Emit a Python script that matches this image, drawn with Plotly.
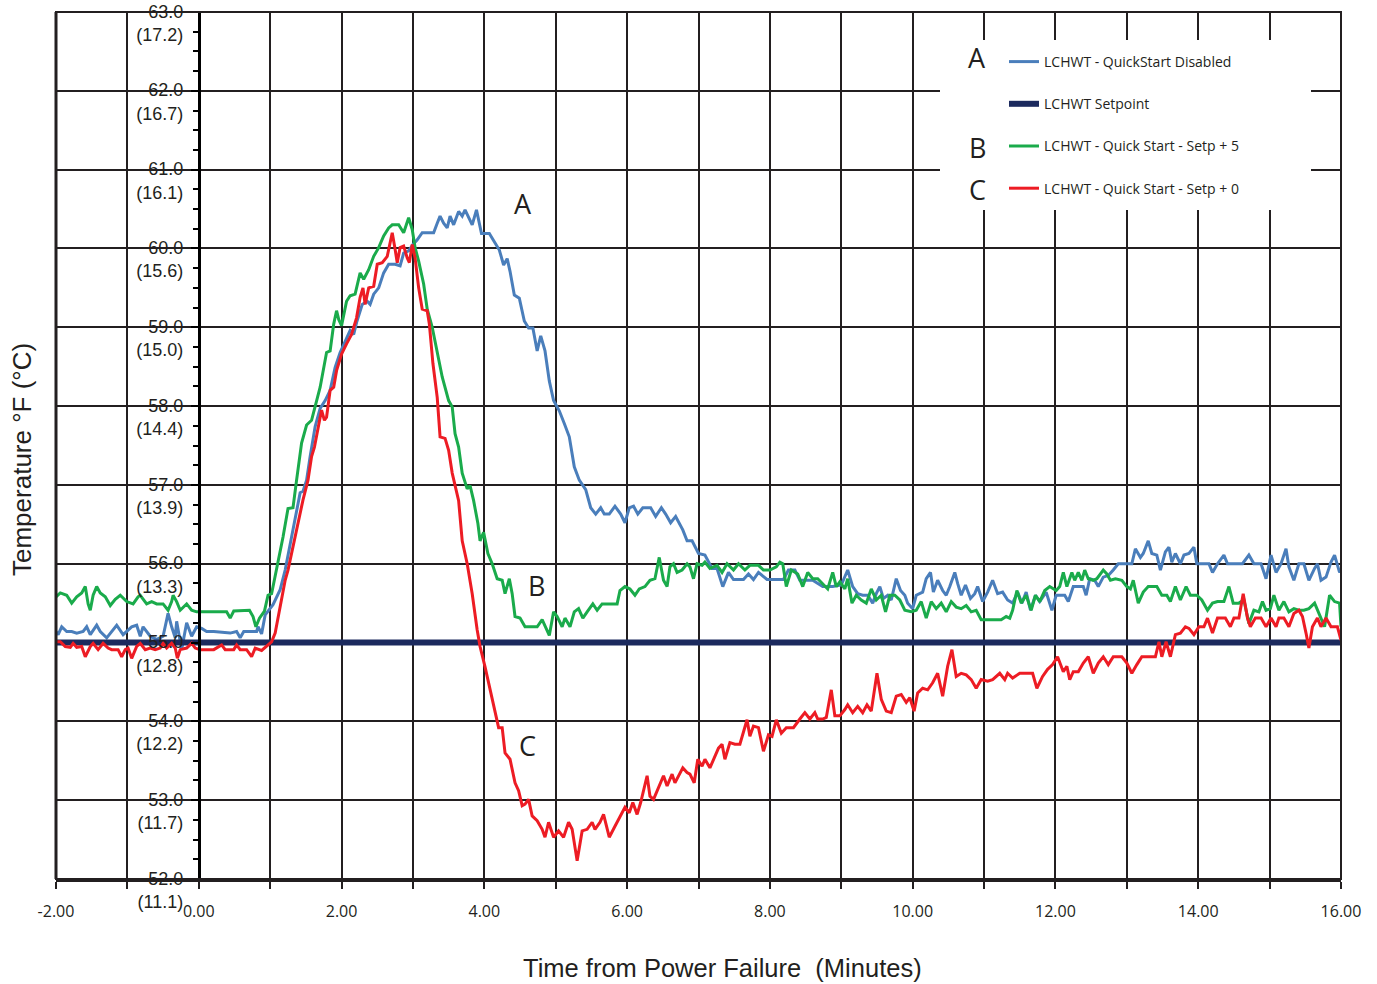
import plotly.graph_objects as go

# ---------------- data ----------------
time_a = [-2.00,-1.97,-1.92,-1.85,-1.78,-1.71,-1.62,-1.57,-1.52,-1.43,-1.38,-1.29,-1.15,-1.06,-0.94,-0.87,-0.82,-0.78,-0.68,-0.59,-0.50,-0.43,-0.38,-0.33,-0.31,-0.24,-0.17,-0.10,-0.03,0.04,0.11,0.21,0.44,0.53,0.58,0.63,0.81,0.83,0.88,0.93,1.04,1.14,1.21,1.28,1.35,1.42,1.46,1.51,
          1.56,1.63,1.70,1.77,1.84,1.91,1.98,2.05,2.12,2.17,2.21,2.29,2.36,2.40,2.45,2.52,2.59,2.66,2.75,2.82,2.87,2.94,3.00,3.06,3.13,3.24,3.29,3.34,3.38,3.43,3.48,3.52,3.57,3.64,3.69,3.73,3.78,3.83,3.89,3.93,3.96,
          4.07,4.14,4.21,4.27,4.32,4.36,4.42,4.49,4.56,4.62,4.68,4.74,4.79,4.85,4.91,4.97,5.05,5.12,5.19,5.26,5.33,5.42,5.49,5.56,5.63,5.68,5.75,5.83,5.91,5.97,6.03,6.09,6.15,6.22,6.33,6.40,6.48,6.54,6.61,6.68,6.78,6.84,6.91,
          7.00,7.09,7.19,7.26,7.34,7.42,7.49,7.63,7.70,7.77,7.84,7.96,8.19,8.26,8.35,8.42,8.60,8.74,8.88,9.00,9.09,9.16,9.23,9.30,9.37,9.44,9.49,9.54,9.59,9.65,9.70,9.77,9.83,9.89,9.93,
          10.00,10.05,10.14,10.19,10.25,10.29,10.35,10.42,10.47,10.52,10.59,10.63,10.68,10.74,10.81,10.87,10.91,10.98,11.05,11.12,11.19,11.26,11.33,11.40,11.47,11.53,11.59,11.65,11.72,11.78,11.87,11.95,12.01,
          12.06,12.13,12.18,12.25,12.32,12.39,12.43,12.48,12.55,12.60,12.67,12.74,12.81,12.88,13.00,13.07,13.12,13.19,13.23,13.30,13.35,13.42,13.47,13.54,13.59,13.63,13.68,13.75,13.80,13.87,13.94,13.98,
          14.08,14.15,14.20,14.27,14.36,14.41,14.62,14.71,14.78,14.88,14.95,15.02,15.09,15.16,15.23,15.27,15.34,15.41,15.48,15.55,15.63,15.67,15.72,15.79,15.86,15.91,15.98,16.00]
temp_a = [55.14,55.10,55.20,55.14,55.14,55.12,55.14,55.20,55.10,55.22,55.14,55.06,55.22,55.10,55.20,55.22,55.08,55.20,55.08,55.04,55.08,55.37,55.20,55.06,55.27,54.91,55.25,55.08,55.20,55.18,55.14,55.14,55.12,55.14,55.06,55.14,55.14,55.20,55.11,55.35,55.48,55.67,55.92,56.26,56.56,56.90,56.92,57.06,
          57.36,57.74,57.97,58.07,58.20,58.49,58.68,58.81,58.96,58.91,59.06,59.29,59.33,59.29,59.42,59.50,59.69,59.80,59.80,59.78,59.94,59.97,60.05,60.11,60.20,60.20,60.20,60.32,60.41,60.32,60.26,60.41,60.30,60.47,60.41,60.49,60.39,60.30,60.49,60.34,60.19,
          60.19,60.08,59.98,59.79,59.87,59.71,59.41,59.37,59.08,58.99,58.99,58.70,58.89,58.70,58.32,58.07,57.94,57.78,57.61,57.23,57.06,56.94,56.71,56.63,56.71,56.63,56.63,56.73,56.63,56.52,56.71,56.73,56.63,56.71,56.71,56.60,56.71,56.63,56.52,56.60,56.43,56.29,56.29,
          56.13,56.11,55.94,55.94,55.71,55.89,55.80,55.80,55.87,55.80,55.89,55.80,55.80,55.92,55.92,55.79,55.79,55.71,55.71,55.73,55.92,55.71,55.62,55.60,55.60,55.50,55.62,55.71,55.56,55.60,55.54,55.81,55.66,55.60,55.50,
          55.43,55.60,55.64,55.81,55.89,55.64,55.79,55.66,55.60,55.71,55.89,55.75,55.60,55.73,55.56,55.62,55.71,55.52,55.64,55.79,55.62,55.64,55.54,55.50,55.64,55.50,55.64,55.41,55.60,55.52,55.64,55.41,55.60,
          55.60,55.60,55.52,55.71,55.71,55.71,55.60,55.81,55.79,55.71,55.83,55.85,55.92,56.00,56.00,56.00,56.19,56.08,56.13,56.29,56.13,56.11,55.92,56.15,56.21,56.02,56.13,56.00,56.11,56.13,56.21,56.00,
          56.00,56.00,55.89,56.00,56.11,56.00,56.00,56.11,56.00,56.00,55.81,56.11,55.89,56.00,56.19,55.96,55.79,56.00,56.00,55.79,55.94,56.00,55.79,55.83,56.02,56.11,55.89,55.92]

time_sp = [-2.00, 16.00]
temp_sp = [55.0, 55.0]

time_b = [-2.00,-1.94,-1.85,-1.78,-1.71,-1.64,-1.59,-1.55,-1.52,-1.48,-1.43,-1.38,-1.31,-1.24,-1.17,-1.10,-1.01,-0.92,-0.85,-0.82,-0.73,-0.66,-0.59,-0.50,-0.43,-0.38,-0.36,-0.31,-0.26,-0.17,-0.10,-0.03,0.11,0.39,0.44,0.49,0.71,0.76,0.80,0.85,0.92,0.97,1.02,1.11,1.18,1.25,1.32,1.37,
          1.44,1.51,1.58,1.70,1.79,1.84,1.89,1.93,1.96,2.00,2.07,2.12,2.19,2.26,2.31,2.38,2.45,2.52,2.59,2.66,2.71,2.80,2.87,2.94,2.99,3.03,3.08,3.15,3.20,3.27,3.34,3.41,3.50,3.55,3.59,3.64,3.69,
          3.73,3.76,3.80,3.85,3.91,3.94,3.99,4.05,4.11,4.18,4.25,4.29,4.35,4.39,4.43,4.50,4.57,4.74,4.81,4.85,4.91,4.97,5.02,5.09,5.13,5.20,5.26,5.32,5.38,5.44,5.52,5.58,5.65,5.86,5.90,5.97,6.04,6.11,6.17,6.25,6.32,6.39,6.45,6.51,6.56,6.60,6.65,6.70,6.77,6.84,6.88,6.93,6.98,
          7.05,7.09,7.16,7.26,7.33,7.40,7.49,7.56,7.65,7.72,7.84,7.91,8.00,8.09,8.14,8.18,8.23,8.30,8.39,8.46,8.53,8.60,8.67,8.74,8.81,8.88,8.93,8.98,9.05,9.09,9.15,9.21,9.28,9.35,9.42,9.49,9.56,9.62,9.68,9.75,9.82,9.89,9.98,
          10.05,10.12,10.19,10.26,10.33,10.40,10.47,10.54,10.61,10.68,10.75,10.82,10.89,10.96,11.12,11.24,11.31,11.36,11.40,11.46,11.52,11.59,11.66,11.72,11.78,11.85,11.92,12.01,
          12.06,12.11,12.16,12.23,12.27,12.32,12.37,12.41,12.46,12.53,12.58,12.67,12.72,12.77,12.84,12.93,13.00,13.05,13.09,13.16,13.23,13.30,13.42,13.49,13.56,13.61,13.68,13.75,13.83,13.89,13.98,
          14.05,14.13,14.20,14.27,14.36,14.43,14.49,14.57,14.64,14.71,14.78,14.85,14.90,14.95,15.01,15.06,15.13,15.20,15.27,15.34,15.41,15.48,15.55,15.63,15.70,15.77,15.84,15.91,15.98,16.00]
temp_b = [55.58,55.63,55.60,55.50,55.58,55.63,55.71,55.49,55.41,55.60,55.71,55.63,55.58,55.47,55.55,55.60,55.52,55.49,55.58,55.60,55.49,55.52,55.49,55.49,55.41,55.52,55.60,55.52,55.41,55.49,55.41,55.39,55.39,55.39,55.31,55.40,55.41,55.33,55.20,55.31,55.40,55.60,55.62,56.01,56.34,56.70,56.71,57.06,
          57.53,57.76,57.82,58.24,58.68,58.70,59.04,59.21,59.10,59.02,59.33,59.40,59.42,59.69,59.61,59.73,59.90,60.01,60.16,60.26,60.30,60.30,60.20,60.39,60.24,60.01,59.84,59.55,59.23,59.00,58.66,58.37,58.07,57.99,57.65,57.48,57.15,
          57.02,56.95,56.99,56.80,56.51,56.29,56.40,56.13,56.00,55.81,55.79,55.62,55.81,55.62,55.33,55.31,55.20,55.20,55.29,55.20,55.09,55.39,55.33,55.20,55.31,55.20,55.39,55.43,55.31,55.39,55.49,55.41,55.49,55.49,55.66,55.71,55.68,55.60,55.68,55.71,55.79,55.81,56.08,55.79,55.71,55.96,56.00,55.89,55.92,56.00,55.96,55.81,56.00,
          55.98,56.02,55.94,55.98,55.89,56.00,55.92,56.00,55.92,55.98,55.98,55.92,55.92,55.96,56.02,56.00,55.71,55.92,55.87,55.71,55.89,55.81,55.81,55.75,55.68,55.89,55.71,55.77,55.68,55.81,55.50,55.60,55.54,55.50,55.68,55.54,55.60,55.39,55.60,55.60,55.54,55.41,55.39,
          55.41,55.52,55.31,55.52,55.43,55.50,55.39,55.52,55.45,55.43,55.47,55.39,55.41,55.29,55.29,55.29,55.33,55.31,55.41,55.66,55.50,55.60,55.41,55.60,55.52,55.66,55.71,55.66,
          55.71,55.89,55.71,55.89,55.79,55.89,55.79,55.92,55.81,55.79,55.81,55.92,55.87,55.79,55.81,55.79,55.71,55.68,55.79,55.50,55.64,55.71,55.71,55.60,55.60,55.52,55.71,55.54,55.71,55.60,55.60,
          55.54,55.41,55.50,55.52,55.52,55.71,55.50,55.50,55.54,55.24,55.41,55.39,55.52,55.41,55.43,55.60,55.41,55.52,55.39,55.43,55.41,55.41,55.43,55.50,55.35,55.20,55.60,55.52,55.50,55.20]

time_c = [-2.00,-1.94,-1.87,-1.80,-1.76,-1.71,-1.64,-1.59,-1.52,-1.48,-1.41,-1.34,-1.27,-1.22,-1.13,-1.08,-1.03,-0.99,-0.94,-0.87,-0.82,-0.75,-0.68,-0.61,-0.54,-0.50,-0.45,-0.38,-0.33,-0.30,-0.26,-0.17,-0.10,-0.05,0.02,0.21,0.32,0.37,0.49,0.53,0.58,0.67,0.74,0.79,0.88,0.95,1.02,1.07,1.14,1.21,1.25,1.32,1.39,1.46,1.53,
          1.58,1.62,1.68,1.72,1.76,1.79,1.84,1.89,1.93,2.00,2.07,2.14,2.21,2.26,2.30,2.33,2.38,2.45,2.50,2.57,2.64,2.68,2.71,2.75,2.78,2.82,2.87,2.92,2.95,2.99,3.03,3.08,3.13,3.20,3.23,3.28,3.34,3.38,3.45,3.50,3.55,
          3.64,3.69,3.76,3.83,3.90,3.94,4.01,4.08,4.15,4.20,4.25,4.29,4.36,4.43,4.48,4.53,4.57,4.62,4.67,4.74,4.81,4.85,4.90,4.97,5.04,5.11,5.18,5.23,5.30,5.37,5.44,5.51,5.55,5.62,5.67,5.75,5.83,5.90,5.97,6.03,6.08,6.14,6.19,6.28,6.32,6.37,6.44,6.51,6.56,6.63,6.67,6.72,6.78,6.84,6.88,6.94,6.99,
          7.05,7.09,7.16,7.23,7.28,7.33,7.37,7.44,7.51,7.58,7.68,7.72,7.77,7.84,7.91,7.98,8.03,8.09,8.16,8.23,8.33,8.42,8.49,8.56,8.63,8.67,8.74,8.79,8.86,8.91,8.98,9.05,9.09,9.16,9.23,9.30,9.36,9.42,9.50,9.56,9.63,9.70,9.77,9.84,9.91,9.96,
          10.02,10.07,10.14,10.21,10.28,10.35,10.42,10.49,10.55,10.61,10.68,10.75,10.82,10.89,10.96,11.05,11.12,11.22,11.29,11.33,11.40,11.50,11.59,11.68,11.74,11.82,11.89,11.96,12.03,
          12.11,12.16,12.20,12.25,12.32,12.39,12.46,12.53,12.60,12.67,12.74,12.81,12.93,13.00,13.07,13.14,13.21,13.33,13.40,13.45,13.49,13.55,13.61,13.68,13.75,13.82,13.87,13.94,
          14.01,14.08,14.13,14.20,14.27,14.38,14.45,14.50,14.57,14.63,14.69,14.73,14.80,14.88,14.95,15.02,15.09,15.13,15.20,15.27,15.34,15.41,15.46,15.51,15.55,15.60,15.67,15.72,15.79,15.86,15.95,16.00]
temp_c = [55.01,55.01,54.95,54.94,54.99,54.94,54.95,54.82,54.95,54.99,54.91,54.99,54.93,54.91,54.91,54.82,54.91,54.93,54.80,54.95,54.99,54.91,54.93,54.91,54.93,54.99,54.93,54.99,54.93,54.80,54.91,54.93,54.99,54.93,54.91,54.91,54.97,54.91,54.91,54.97,54.91,54.91,54.82,54.93,54.90,54.95,55.01,55.12,55.46,55.79,55.92,56.22,56.51,56.81,57.06,
          57.36,57.48,57.78,57.95,57.82,57.86,58.20,58.24,58.45,58.66,58.79,58.91,59.12,59.38,59.50,59.29,59.50,59.52,59.80,59.82,59.90,60.09,60.20,59.99,59.82,60.01,60.03,59.88,59.82,60.05,59.88,59.50,59.23,59.21,59.04,58.54,58.11,57.61,57.59,57.44,57.15,
          56.80,56.29,56.00,55.62,55.16,54.95,54.69,54.40,54.11,53.92,53.92,53.60,53.52,53.22,53.12,52.93,52.95,53.01,52.80,52.74,52.63,52.53,52.72,52.53,52.61,52.53,52.72,52.63,52.23,52.61,52.63,52.72,52.63,52.72,52.82,52.53,52.67,52.80,52.91,52.84,52.97,52.82,52.97,53.31,53.05,53.01,53.16,53.31,53.18,53.33,53.22,53.31,53.41,53.35,53.33,53.22,53.52,
          53.43,53.52,53.41,53.56,53.66,53.71,53.52,53.73,53.71,53.71,54.02,53.81,53.94,53.92,53.62,53.83,53.81,54.02,53.85,53.92,53.92,54.03,54.11,54.03,54.11,54.03,54.03,54.05,54.40,54.07,54.07,54.15,54.21,54.11,54.19,54.11,54.21,54.13,54.61,54.28,54.13,54.11,54.32,54.34,54.24,54.30,
          54.13,54.36,54.42,54.40,54.49,54.61,54.32,54.70,54.91,54.57,54.61,54.59,54.53,54.42,54.53,54.51,54.53,54.61,54.53,54.61,54.55,54.61,54.61,54.61,54.42,54.57,54.66,54.72,54.82,
          54.63,54.70,54.53,54.63,54.63,54.74,54.82,54.61,54.74,54.82,54.72,54.82,54.82,54.74,54.61,54.72,54.82,54.82,54.82,55.01,54.82,55.01,54.82,55.10,55.12,55.20,55.18,55.10,
          55.20,55.20,55.31,55.12,55.31,55.31,55.20,55.31,55.31,55.62,55.31,55.20,55.31,55.31,55.20,55.31,55.20,55.31,55.31,55.20,55.37,55.41,55.33,55.12,54.93,55.20,55.31,55.20,55.31,55.20,55.20,55.03]

series_names = ["LCHWT - QuickStart Disabled", "LCHWT Setpoint",
                "LCHWT - Quick Start - Setp + 5", "LCHWT - Quick Start - Setp + 0"]
y_ticks_f = [52, 53, 54, 55, 56, 57, 58, 59, 60, 61, 62, 63]
y_ticks_c = ["(11.1)", "(11.7)", "(12.2)", "(12.8)", "(13.3)", "(13.9)", "(14.4)",
             "(15.0)", "(15.6)", "(16.1)", "(16.7)", "(17.2)"]
x_ticks = [-2, 0, 2, 4, 6, 8, 10, 12, 14, 16]
x_tick_text = ["-2.00", "0.00", "2.00", "4.00", "6.00", "8.00", "10.00", "12.00", "14.00", "16.00"]

# ---------------- style ----------------
INK = "#231f20"
C_A = "#4a7ebb"
C_SP = "#1c2a5e"
C_B = "#1aab4b"
C_C = "#ed1c24"

fig = go.Figure()
fig.add_trace(go.Scatter(x=time_a, y=temp_a, mode="lines", name=series_names[0],
                         line=dict(color=C_A, width=3), legendgroup="a"))
fig.add_trace(go.Scatter(x=time_sp, y=temp_sp, mode="lines", name=series_names[1],
                         line=dict(color=C_SP, width=6), legendgroup="sp"))
fig.add_trace(go.Scatter(x=time_b, y=temp_b, mode="lines", name=series_names[2],
                         line=dict(color=C_B, width=3), legendgroup="b"))
fig.add_trace(go.Scatter(x=time_c, y=temp_c, mode="lines", name=series_names[3],
                         line=dict(color=C_C, width=3), legendgroup="c"))

W, H = 1377, 984
ML, MR, MT, MB = 56, 36, 12, 105
pw, ph = W - ML - MR, H - MT - MB

def px_x(p):
    return (p - ML) / pw

def px_y(p):
    return (H - MB - p) / ph

fig.update_layout(
    width=W, height=H,
    margin=dict(l=ML, r=MR, t=MT, b=MB, pad=0, autoexpand=False),
    paper_bgcolor="white", plot_bgcolor="white",
    showlegend=True,
    legend=dict(x=px_x(1004), y=px_y(46), xanchor="left", yanchor="top",
                bgcolor="rgba(0,0,0,0)", borderwidth=0,
                font=dict(family="Open Sans", size=14, color=INK),
                traceorder="grouped", tracegroupgap=21, itemwidth=30),
    xaxis=dict(range=[-2, 16], tickmode="array", tickvals=x_ticks, ticktext=x_tick_text,
               automargin=False,
               showgrid=True, gridcolor=INK, gridwidth=2, zeroline=False,
               showline=True, linecolor=INK, linewidth=3,
               ticks="outside", ticklen=7, tickwidth=2, tickcolor=INK,
               tickfont=dict(family="Open Sans", size=16, color=INK),
               ticklabelstandoff=9,
               minor=dict(tickmode="linear", tick0=-2, dtick=1, showgrid=True,
                          gridcolor=INK, gridwidth=2, ticks="outside", ticklen=7,
                          tickwidth=2, tickcolor=INK)),
    yaxis=dict(range=[52, 63], tickmode="array", tickvals=y_ticks_f,
               ticktext=[f"{f:.1f}<br>{c}" for f, c in zip(y_ticks_f, y_ticks_c)],
               anchor="free", position=2 / 18, automargin=False,
               showgrid=True, gridcolor=INK, gridwidth=2, zeroline=False,
               showline=True, linecolor="black", linewidth=3,
               ticks="outside", ticklen=7, tickwidth=2, tickcolor="black",
               tickfont=dict(family="Liberation Sans", size=18, color=INK),
               ticklabelshift=11, ticklabelstandoff=4,
               minor=dict(tickmode="linear", tick0=52, dtick=0.25, ticks="outside",
                          ticklen=5, tickwidth=2, tickcolor="black", showgrid=False)),
)

# white area behind the legend (covers grid lines)
fig.add_shape(type="rect", xref="paper", yref="paper",
              x0=px_x(940), x1=px_x(1311), y0=px_y(210), y1=px_y(40),
              fillcolor="white", line=dict(width=0), layer="above")
# frame
fig.add_shape(type="rect", xref="paper", yref="paper", x0=0, x1=1, y0=0, y1=1,
              line=dict(color=INK, width=2), layer="above")
fig.add_shape(type="line", xref="paper", yref="paper", x0=0, x1=0, y0=0, y1=1,
              line=dict(color=INK, width=3), layer="above")

ann_font = dict(family="Open Sans", size=27, color=INK)
# curve labels
for txt, xv, yv in [("A", 4.54, 60.57), ("B", 4.73, 55.73), ("C", 4.60, 53.70)]:
    fig.add_annotation(x=xv, y=yv, xref="x", yref="y", text=txt, showarrow=False,
                       font=ann_font, xanchor="center", yanchor="middle")
# legend letters
for txt, py in [("A", 58), ("B", 147), ("C", 189)]:
    fig.add_annotation(x=px_x(977), y=px_y(py), xref="paper", yref="paper", text=txt,
                       showarrow=False, font=ann_font, xanchor="center", yanchor="middle")
# axis titles
fig.add_annotation(x=px_x(22), y=px_y(460), xref="paper", yref="paper",
                   text="Temperature °F (°C)", textangle=-90, showarrow=False,
                   font=dict(family="Liberation Sans", size=26, color=INK),
                   xanchor="center", yanchor="middle")
fig.add_annotation(x=px_x(722), y=px_y(968), xref="paper", yref="paper",
                   text="Time from Power Failure  (Minutes)", showarrow=False,
                   font=dict(family="Liberation Sans", size=25.5, color=INK),
                   xanchor="center", yanchor="middle")

fig.write_html("out.html", config={"displayModeBar": False},
               post_script="document.body.style.margin='0';")
